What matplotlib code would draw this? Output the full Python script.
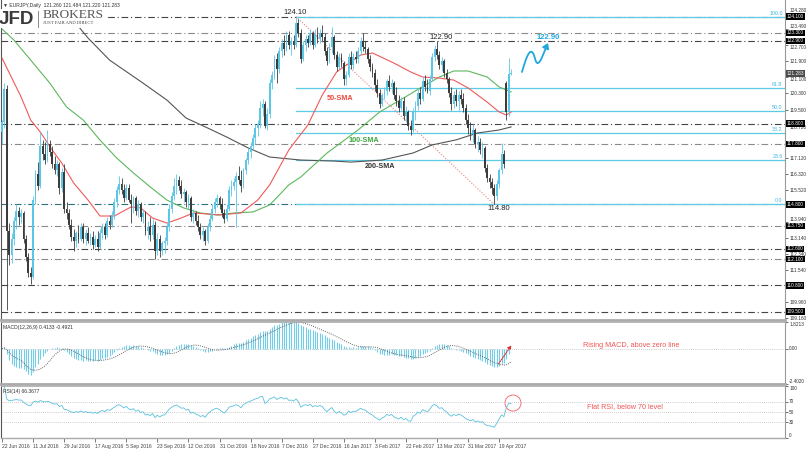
import numpy as np
import pandas as pd
import matplotlib
matplotlib.use('Agg')
import matplotlib.pyplot as plt
from matplotlib.patches import Ellipse, FancyArrowPatch, Rectangle
from matplotlib.path import Path

############################## Data ############################################
# daily candles EURJPY, 22 Jun 2016 .. 26 Apr 2017
opens = [118.4, 118.9, 120.5, 113.5, 112.3, 113.1, 114.0, 114.5, 114.2, 114.4,
         113.1, 112.2, 111.4, 111.2, 115.0, 116.3, 115.7, 117.7, 117.3, 117.0,
         117.8, 117.4, 116.8, 116.5, 116.8, 115.6, 116.4, 114.6, 114.4, 113.8,
         113.2, 113.0, 113.4, 113.1, 113.7, 113.1, 113.4, 113.0, 113.2, 112.8,
         113.1, 112.7, 113.4, 113.7, 113.3, 114.0, 113.8, 114.3, 114.9, 115.5,
         115.8, 115.5, 115.1, 115.6, 115.0, 114.8, 115.1, 114.5, 114.8, 114.2,
         114.4, 113.5, 113.7, 113.3, 113.8, 112.5, 113.1, 112.5, 112.9, 113.0,
         113.7, 114.6, 115.2, 115.7, 116.0, 115.7, 115.3, 115.4, 114.9, 115.1,
         114.2, 114.4, 114.0, 113.7, 113.3, 113.5, 113.0, 113.7, 114.1, 114.6,
         114.9, 115.1, 114.8, 114.4, 114.1, 114.6, 115.5, 115.7, 115.9, 116.2,
         116.0, 115.7, 116.5, 117.0, 117.4, 117.7, 118.1, 118.6, 118.8, 119.6,
         119.8, 118.7, 119.3, 120.8, 121.2, 122.0, 121.5, 122.4, 122.8, 122.5,
         123.2, 122.7, 122.9, 122.7, 123.8, 123.3, 122.0, 122.7, 123.0, 122.8,
         123.3, 122.7, 123.2, 123.0, 123.3, 123.1, 122.4, 121.9, 122.6, 123.1,
         122.2, 121.6, 122.1, 121.8, 121.0, 121.2, 122.1, 121.7, 122.1, 122.0,
         122.4, 122.9, 122.6, 122.5, 122.0, 121.6, 121.3, 120.7, 120.3, 119.8,
         120.2, 120.4, 120.9, 120.6, 120.8, 120.2, 119.9, 119.6, 119.9, 119.2,
         119.4, 118.7, 118.5, 119.4, 119.7, 120.3, 120.0, 120.9, 120.6, 120.4,
         121.0, 122.1, 122.5, 122.2, 121.7, 121.9, 121.3, 121.0, 120.3, 119.8,
         120.2, 119.9, 120.2, 120.0, 119.6, 119.0, 118.6, 118.3, 118.5, 117.8,
         117.9, 117.5, 117.6, 116.6, 116.1, 115.9, 115.6, 115.2, 115.8, 116.5,
         117.3, 120.8, 119.4, 121.26]
highs = [119.0, 120.8, 120.7, 113.9, 113.4, 114.2, 114.8, 114.7, 114.6, 114.5,
         113.3, 112.4, 111.7, 115.2, 116.5, 116.9, 118.4, 118.0, 117.9, 118.5,
         118.0, 117.7, 117.2, 117.0, 116.9, 116.6, 116.8, 114.9, 114.6, 114.1,
         113.6, 113.5, 113.8, 113.9, 113.9, 113.6, 113.7, 113.4, 113.5, 113.3,
         113.5, 113.6, 113.9, 113.9, 114.2, 114.3, 114.5, 115.1, 115.7, 116.2,
         116.1, 115.8, 115.8, 115.8, 115.3, 115.2, 115.2, 115.0, 114.9, 114.6,
         114.5, 114.0, 114.2, 114.1, 114.0, 113.4, 113.3, 113.0, 113.2, 113.9,
         114.8, 115.4, 116.1, 116.3, 116.2, 116.0, 115.6, 115.5, 115.3, 115.2,
         114.6, 114.5, 114.3, 113.9, 113.7, 113.6, 113.9, 114.3, 114.8, 115.1,
         115.3, 115.2, 115.1, 114.6, 114.8, 115.7, 116.0, 116.1, 116.4, 116.7,
         116.5, 116.6, 117.1, 117.6, 117.9, 118.3, 118.8, 119.0, 119.9, 120.0,
         119.9, 119.6, 121.0, 121.4, 122.2, 122.3, 122.6, 123.0, 123.2, 123.4,
         123.4, 123.1, 123.2, 124.10, 124.0, 123.5, 122.9, 123.2, 123.2, 123.5,
         123.4, 123.5, 123.6, 123.5, 123.7, 123.3, 122.6, 122.8, 123.6, 123.2,
         122.4, 122.3, 122.3, 121.9, 121.4, 122.3, 122.4, 122.3, 122.4, 122.6,
         123.1, 123.3, 122.9, 122.6, 122.2, 121.8, 121.5, 121.0, 120.5, 120.3,
         120.6, 121.0, 121.2, 121.0, 120.9, 120.6, 120.2, 120.1, 120.1, 119.7,
         119.5, 119.0, 119.6, 119.9, 120.5, 120.6, 121.1, 121.2, 121.0, 121.2,
         122.3, 122.7, 122.90, 122.4, 122.1, 122.0, 121.5, 121.1, 120.6, 120.4,
         120.5, 120.4, 120.5, 120.3, 119.8, 119.3, 118.9, 118.8, 118.6, 118.2,
         118.1, 117.9, 117.7, 116.8, 116.3, 116.1, 115.8, 116.0, 116.6, 117.85,
         117.5, 120.9, 122.05, 121.484]
lows = [117.8, 118.6, 109.57, 111.8, 111.9, 112.8, 113.6, 113.8, 113.9, 112.9,
        112.0, 111.2, 110.85, 111.1, 114.8, 115.5, 115.6, 117.0, 116.8, 116.9,
        117.2, 116.6, 116.3, 116.2, 115.3, 115.4, 114.4, 114.1, 113.6, 113.0,
        112.5, 112.7, 112.9, 113.0, 112.9, 112.8, 112.9, 112.8, 112.6, 112.7,
        112.5, 112.6, 113.1, 113.1, 113.2, 113.6, 113.7, 114.1, 114.7, 115.3,
        115.3, 114.9, 115.0, 114.9, 113.9, 114.4, 114.3, 114.2, 114.0, 113.9,
        113.3, 113.1, 113.0, 113.1, 112.1, 112.3, 112.2, 112.3, 112.4, 112.8,
        113.5, 114.4, 115.0, 115.3, 115.5, 115.1, 114.9, 114.7, 114.6, 114.0,
        113.9, 113.8, 113.5, 113.1, 113.0, 112.8, 112.9, 113.5, 114.0, 114.4,
        114.7, 114.6, 114.2, 113.9, 114.0, 114.5, 115.2, 115.5, 113.7, 115.8,
        115.4, 115.6, 116.3, 116.8, 117.1, 117.5, 117.8, 118.2, 118.6, 119.2,
        118.6, 118.5, 119.1, 120.5, 121.0, 120.8, 121.3, 122.1, 122.2, 122.4,
        122.5, 122.2, 122.5, 122.6, 123.1, 121.8, 121.9, 122.4, 122.6, 122.7,
        122.5, 122.6, 122.8, 122.8, 122.9, 122.2, 121.7, 121.8, 122.3, 122.0,
        121.4, 121.5, 121.6, 120.7, 120.7, 121.1, 121.5, 121.5, 121.8, 121.8,
        122.2, 122.4, 122.3, 121.8, 121.4, 121.1, 120.4, 120.1, 119.6, 119.7,
        120.0, 120.2, 120.4, 120.3, 120.0, 119.7, 119.4, 119.5, 119.0, 118.9,
        118.5, 118.24, 118.4, 119.0, 119.5, 119.8, 119.9, 120.4, 120.3, 120.2,
        120.9, 121.9, 122.0, 121.5, 121.4, 121.1, 120.8, 120.1, 119.5, 119.6,
        119.7, 119.5, 119.8, 119.4, 118.8, 118.3, 118.0, 117.9, 117.6, 117.4,
        117.3, 117.1, 116.4, 115.9, 115.6, 115.3, 114.80, 115.0, 115.6, 116.3,
        116.6, 119.0, 119.2, 121.22]
closes = [118.9, 120.5, 113.5, 112.3, 113.1, 114.0, 114.5, 114.2, 114.4, 113.1,
          112.2, 111.4, 111.2, 115.0, 116.3, 115.7, 117.7, 117.3, 117.0, 117.8,
          117.4, 116.8, 116.5, 116.8, 115.6, 116.4, 114.6, 114.4, 113.8, 113.2,
          113.0, 113.4, 113.1, 113.7, 113.1, 113.4, 113.0, 113.2, 112.8, 113.1,
          112.7, 113.4, 113.7, 113.3, 114.0, 113.8, 114.3, 114.9, 115.5, 115.8,
          115.5, 115.1, 115.6, 115.0, 114.8, 115.1, 114.5, 114.8, 114.2, 114.4,
          113.5, 113.7, 113.3, 113.8, 112.5, 113.1, 112.5, 112.9, 113.0, 113.7,
          114.6, 115.2, 115.7, 116.0, 115.7, 115.3, 115.4, 114.9, 115.1, 114.2,
          114.4, 114.0, 113.7, 113.3, 113.5, 113.0, 113.7, 114.1, 114.6, 114.9,
          115.1, 114.8, 114.4, 114.1, 114.6, 115.5, 115.7, 115.9, 116.2, 116.0,
          115.7, 116.5, 117.0, 117.4, 117.7, 118.1, 118.6, 118.8, 119.6, 119.8,
          118.7, 119.3, 120.8, 121.2, 122.0, 121.5, 122.4, 122.8, 122.5, 123.2,
          122.7, 122.9, 122.7, 123.8, 123.3, 122.0, 122.7, 123.0, 122.8, 123.3,
          122.7, 123.2, 123.0, 123.3, 123.1, 122.4, 121.9, 122.6, 123.1, 122.2,
          121.6, 122.1, 121.8, 121.0, 121.2, 122.1, 121.7, 122.1, 122.0, 122.4,
          122.9, 122.6, 122.5, 122.0, 121.6, 121.3, 120.7, 120.3, 119.8, 120.2,
          120.4, 120.9, 120.6, 120.8, 120.2, 119.9, 119.6, 119.9, 119.2, 119.4,
          118.7, 118.5, 119.4, 119.7, 120.3, 120.0, 120.9, 120.6, 120.4, 121.0,
          122.1, 122.5, 122.2, 121.7, 121.9, 121.3, 121.0, 120.3, 119.8, 120.2,
          119.9, 120.2, 120.0, 119.6, 119.0, 118.6, 118.3, 118.5, 117.8, 117.9,
          117.5, 117.6, 116.6, 116.1, 115.9, 115.6, 115.2, 115.8, 116.5, 117.3,
          116.8, 119.4, 121.26, 121.283]

# moving averages (bar index, price)
sma50_x = [0, 8, 12, 16, 21, 25, 30, 36, 41, 47, 54, 58, 63, 69, 75, 80, 86, 91,
           100, 107, 112, 120, 128, 134, 140, 150, 155, 164, 171, 176, 183, 189,
           195, 203, 208, 211, 213]
sma50_y = [122.05, 120.12, 118.98, 118.39, 117.50, 116.85, 115.86, 115.02, 114.23,
           114.23, 114.68, 114.63, 114.13, 113.88, 114.13, 114.38, 114.33, 114.28,
           114.38, 115.02, 115.77, 117.50, 118.74, 120.22, 121.36, 122.20, 122.30,
           121.80, 121.36, 121.11, 121.06, 120.96, 120.57, 119.87, 119.38, 119.23,
           119.38]
sma100_x = [0, 5, 12, 20, 27, 34, 41, 48, 55, 62, 69, 76, 83, 90, 97, 105, 112,
            116, 120, 125, 136, 149, 158, 168, 175, 183, 189, 195, 203, 208, 213]
sma100_y = [123.49, 122.94, 121.95, 120.81, 119.63, 118.98, 117.99, 117.10, 116.36,
            115.67, 115.02, 114.63, 114.38, 114.28, 114.38, 114.43, 114.78, 115.27,
            115.77, 116.16, 117.35, 118.49, 119.38, 120.07, 120.57, 121.11, 121.41,
            121.41, 121.11, 120.62, 120.37]
sma200_x = [26, 30, 36, 45, 59, 69, 77, 86, 94, 103, 112, 125, 139, 146, 159, 172,
            180, 190, 199, 208, 213]
sma200_y = [124.40, 123.90, 123.04, 121.95, 120.81, 119.97, 119.08, 118.59, 118.14,
            117.60, 117.15, 117.00, 116.95, 116.90, 117.00, 117.35, 117.75, 118.00,
            118.34, 118.49, 118.64]

# horizontal support / resistance levels
levels = [124.10, 123.30, 122.90, 118.80, 117.80, 114.80, 113.75, 112.60, 112.10,
          110.80, 109.50]
level_colors = ['#444444', '#8a8a8a', '#444444', '#444444', '#8a8a8a', '#2b6f80',
                '#8a8a8a', '#444444', '#8a8a8a', '#444444', '#444444']
price_ticks = [124.280, 123.490, 122.700, 121.900, 121.100, 120.300, 119.500,
               118.720, 117.920, 117.120, 116.320, 115.520, 114.720, 113.940,
               113.140, 112.340, 111.540, 110.740, 109.960, 109.160]
hidden_ticks = [117.920, 114.720, 110.740]   # covered by the level boxes
above_box = [124.280, 123.490, 113.940]      # labels sitting just above a box
below_box = [122.700, 121.100, 118.720]      # labels sitting just below a box
last_price = 121.283

# fibonacci swing (bar index, price)
swing_hi = (123, 124.10)
swing_lo = (206, 114.80)
fib_ratios = [1.0, 0.618, 0.5, 0.382, 0.236, 0.0]
fib_names = ['100.0', '61.8', '50.0', '38.2', '23.6', '0.0']

date_idx = [0, 13, 26, 39, 52, 65, 78, 91, 104, 117, 130, 143, 156, 169, 182, 195, 208]
date_lbl = ['22 Jun 2016', '11 Jul 2016', '29 Jul 2016', '17 Aug 2016', '5 Sep 2016',
            '23 Sep 2016', '12 Oct 2016', '31 Oct 2016', '18 Nov 2016', '7 Dec 2016',
            '27 Dec 2016', '16 Jan 2017', '3 Feb 2017', '22 Feb 2017', '13 Mar 2017',
            '31 Mar 2017', '19 Apr 2017']

############################## Indicators ######################################
cs = pd.Series(closes)
macd = cs.ewm(span=12, adjust=False).mean() - cs.ewm(span=26, adjust=False).mean()
signal = macd.rolling(9, min_periods=1).mean()
d = cs.diff()
gain = d.clip(lower=0).ewm(alpha=1/14, adjust=False).mean()
loss = (-d.clip(upper=0)).ewm(alpha=1/14, adjust=False).mean()
rsi = 100 - 100 / (1 + gain / loss)

############################## Figure ##########################################
W, H = 806, 450
plt.rcParams['font.family'] = ['Liberation Sans', 'DejaVu Sans']
fig = plt.figure(figsize=(W / 100, H / 100), dpi=100)
fig.patch.set_facecolor('white')

def px_axes(x0, y0, x1, y1):
    return fig.add_axes([x0 / W, 1 - y1 / H, (x1 - x0) / W, (y1 - y0) / H])

def fig_xy(x, y):
    return x / W, 1 - y / H

ax = px_axes(1, 0, 785, 320)
ax_m = px_axes(1, 322, 785, 384)
ax_r = px_axes(1, 386, 785, 438)

XMIN, XMAX = -0.42, 327.6
for a in (ax, ax_m, ax_r):
    a.set_xlim(XMIN, XMAX)
    a.set_facecolor('white')
    a.yaxis.tick_right()
    a.tick_params(axis='y', length=2, width=0.5, pad=1, labelsize=3.4,
                  colors='#333333')
    a.spines['left'].set_color('#555555')
    a.spines['left'].set_linewidth(0.8)
    a.spines['right'].set_color('#999999')
    a.spines['right'].set_linewidth(0.8)
    a.spines['top'].set_color('#aaaaaa')
    a.spines['bottom'].set_color('#aaaaaa')
ax.spines['top'].set_visible(False)
ax.spines['bottom'].set_linewidth(2)
ax_m.spines['top'].set_linewidth(0.6)
ax_m.spines['bottom'].set_linewidth(2)
ax_r.spines['top'].set_linewidth(0.6)
ax_r.spines['bottom'].set_linewidth(1)
ax.set_xticks([])
ax_m.set_xticks([])

############################## Main panel ######################################
ax.set_ylim(109.082, 124.924)
ax.set_yticks(price_ticks)
ax.set_yticklabels(['' if v in hidden_ticks else '%.3f' % v for v in price_ticks])
for t, v in zip(ax.get_yticklabels(), price_ticks):
    if v in above_box:
        t.set_verticalalignment('bottom')
    elif v in below_box:
        t.set_verticalalignment('top')

for lv, lc in zip(levels, level_colors):
    ax.axhline(lv, color=lc, lw=0.8, linestyle=(0, (6, 2.5, 1, 2.5)), zorder=1)

rng = swing_hi[1] - swing_lo[1]
for r, name in zip(fib_ratios, fib_names):
    lv = swing_lo[1] + r * rng
    ax.plot([swing_hi[0], XMAX], [lv, lv], color='#5ccbe6', lw=0.9, zorder=2)
    ax.text(XMAX - 1, lv + 0.05, name, fontsize=3.8, color='#3cb4dc',
            ha='right', va='bottom', zorder=6)

ax.plot([swing_hi[0], swing_lo[0]], [swing_hi[1], swing_lo[1]], color='#f08080',
        lw=0.8, linestyle=(0, (1, 1.5)), zorder=2)

ax.plot(sma200_x, sma200_y, color='#555555', lw=0.8, zorder=3)
ax.plot(sma100_x, sma100_y, color='#5cb85c', lw=0.8, zorder=3)
ax.plot(sma50_x, sma50_y, color='#f05a5a', lw=0.8, zorder=3)

# candles
idx = np.arange(len(closes))
o, hi, lo, c = map(np.array, (opens, highs, lows, closes))
up = c >= o
col = np.where(up, '#5cc6e6', '#3c3c3c')
ax.vlines(idx, lo, hi, colors=col, lw=0.6, zorder=4)
body = np.maximum(np.abs(c - o), 0.04)
ax.bar(idx, body, bottom=np.minimum(o, c), width=0.75, color=col, lw=0, zorder=5)

# right axis price boxes
trans = ax.get_yaxis_transform()
for lv in levels:
    ax.text(1.0025, lv, '%.3f' % lv, transform=trans, fontsize=3.4, color='white',
            ha='left', va='center', clip_on=False, zorder=10,
            bbox=dict(boxstyle='square,pad=0.15', fc='black', ec='none'))
ax.text(1.0025, last_price, '%.3f' % last_price, transform=trans, fontsize=3.4,
        color='white', ha='left', va='center', clip_on=False, zorder=10,
        bbox=dict(boxstyle='square,pad=0.15', fc='#4a4a4a', ec='none'))

# annotations
ax.text(122.6, 124.30, '124.10', fontsize=5.5, color='#222222', ha='center',
        va='center', zorder=7)
ax.text(183.7, 123.09, '122.90', fontsize=5.5, color='#222222', ha='center',
        va='center', zorder=7)
ax.text(208.0, 114.58, '114.80', fontsize=5.5, color='#222222', ha='center',
        va='center', zorder=7)
ax.text(141.4, 120.07, '50-SMA', fontsize=5.2, color='#f0463c', weight='bold',
        ha='center', va='center', zorder=7)
ax.text(151.5, 117.99, '100-SMA', fontsize=5.2, color='#3aa53a', weight='bold',
        ha='center', va='center', zorder=7)
ax.text(158.2, 116.66, '200-SMA', fontsize=5.2, color='#333333', weight='bold',
        ha='center', va='center', zorder=7)
ax.text(228.5, 123.09, '122.90', fontsize=5.5, color='#1fa8e0', weight='bold',
        ha='center', va='center', zorder=7)

# blue squiggle arrow
pts = [(522, 72), (526, 58), (529, 50), (532, 52), (535, 54), (535, 64), (538, 63),
       (541, 62), (544, 52), (548, 43)]
verts = [fig_xy(x, y) for x, y in pts]
codes = [Path.MOVETO] + [Path.CURVE4] * 9
arrow = FancyArrowPatch(path=Path(verts, codes), arrowstyle='-|>,head_length=3,head_width=2',
                        color='#1fa8e0', lw=1.3, transform=fig.transFigure)
fig.add_artist(arrow)

############################## MACD panel ######################################
ax_m.set_ylim(-2.402, 1.8213)
ax_m.set_yticks([1.8213, 0.0, -2.402])
ax_m.set_yticklabels(['1.8213', '0.00', '-2.4020'])
for t, va in zip(ax_m.get_yticklabels(), ['top', 'center', 'bottom']):
    t.set_verticalalignment(va)
ax_m.axhline(0, color='#bbbbbb', lw=0.6, linestyle=(0, (1, 1.5)))
ax_m.vlines(idx, 0, macd, colors='#74cde8', lw=0.8)
ax_m.plot(idx, signal, color='#666666', lw=0.7, linestyle=(0, (1, 1.2)))
ax_m.text(0.003, 0.95, 'MACD(12,26,9) 0.4133 -0.4921', transform=ax_m.transAxes,
          fontsize=3.6, color='#333333', ha='left', va='top')
ax_m.annotate('', xy=(213.8, 0.39), xytext=(207.1, -1.18),
              arrowprops=dict(arrowstyle='-|>', linestyle=(0, (1, 1)), color='#e03030',
                              lw=0.8, mutation_scale=5))
ax_m.text(243.1, 0.25, 'Rising MACD, above zero line', fontsize=5.2, color='#f25555',
          ha='left', va='center')

############################## RSI panel #######################################
ax_r.set_ylim(0, 100)
ax_r.set_yticks([100, 70, 50, 30, 0])
ax_r.set_yticklabels(['100', '70', '50', '30', '0'])
for t, va in zip(ax_r.get_yticklabels(), ['top', 'center', 'center', 'center', 'bottom']):
    t.set_verticalalignment(va)
for lv in (70, 50, 30):
    ax_r.axhline(lv, color='#bbbbbb', lw=0.6, linestyle=(0, (1, 1.5)))
ax_r.plot(idx, rsi, color='#5bc0de', lw=0.6)
ax_r.text(0.003, 0.95, 'RSI(14) 66.3677', transform=ax_r.transAxes,
          fontsize=3.6, color='#333333', ha='left', va='top')
ax_r.add_patch(Ellipse((213.8, 67.3), 6.7, 30.8, fill=False, ec='#f06060', lw=0.6))
ax_r.text(244.8, 59.6, 'Flat RSI, below 70 level', fontsize=5.2, color='#f25555',
          ha='left', va='center')

ax_r.set_xticks(date_idx)
ax_r.set_xticklabels(date_lbl)
ax_r.tick_params(axis='x', length=3, width=0.5, pad=1.5, labelsize=3.6,
                 colors='#444444')
for t in ax_r.get_xticklabels():
    t.set_horizontalalignment('left')

############################## Header and logo #################################
fig.add_artist(Rectangle(fig_xy(0, 28), 106 / W, 19 / H, transform=fig.transFigure,
                         fc='white', ec='none', zorder=8))
fig.text(*fig_xy(3, 5), '\u25bc EURJPY,Daily  121.260 121.484 121.220 121.283',
         fontsize=3.6, color='#333333', ha='left', va='center', zorder=9)
fig.text(*fig_xy(-1, 19), 'JFD', fontsize=13.5, weight='bold', color='#3a3a3a',
         ha='left', va='center', zorder=9)
fig.add_artist(plt.Line2D([38 / W, 38 / W], [1 - 11 / H, 1 - 27 / H],
                          transform=fig.transFigure, color='#777777', lw=0.6, zorder=9))
fig.text(*fig_xy(43, 15), 'BROKERS', fontsize=9.5, family='Liberation Serif',
         color='#555555', ha='left', va='center', zorder=9)
fig.text(*fig_xy(43, 23), 'JUST FAIR AND DIRECT', fontsize=3.3, family='Liberation Serif',
         color='#444444', ha='left', va='center', zorder=9)

fig.savefig('out.png', dpi=100, facecolor='white')
